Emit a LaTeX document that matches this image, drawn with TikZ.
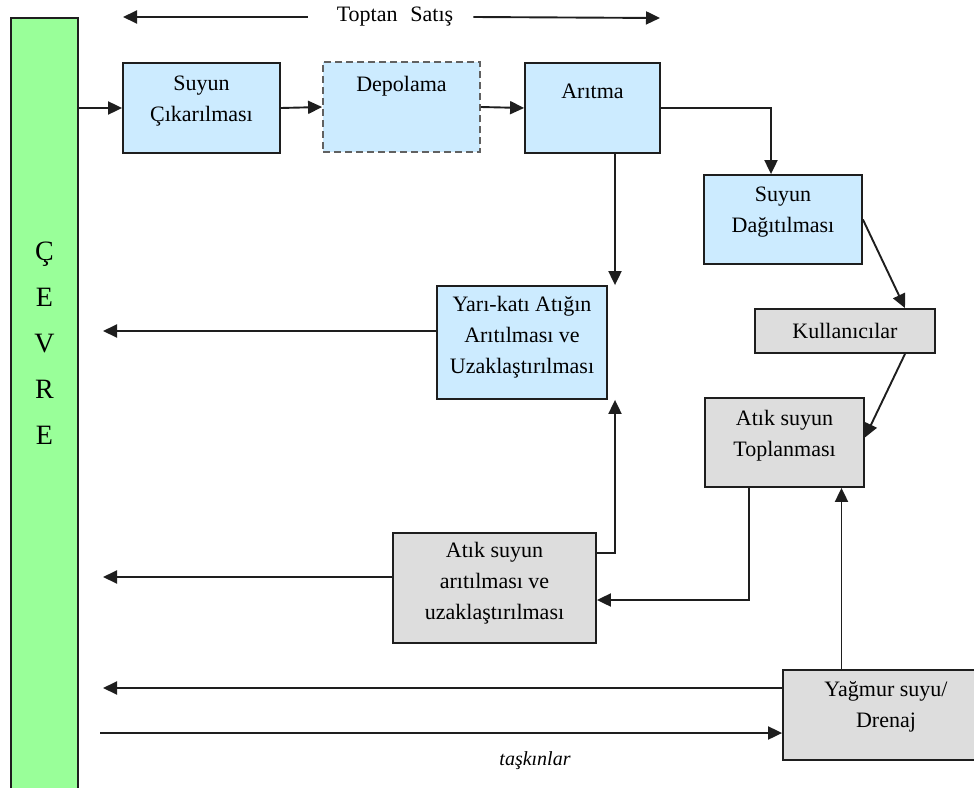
\documentclass[tikz,border=0pt]{standalone}
\usepackage{fontspec}
\setmainfont{Liberation Serif}
\usetikzlibrary{arrows.meta,calc}
\definecolor{boxblue}{HTML}{CCEBFF}
\definecolor{boxgray}{HTML}{DDDDDD}
\definecolor{envgreen}{HTML}{99FF99}
\definecolor{linec}{HTML}{1E1E1E}
\tikzset{
  bx/.style={draw=linec, line width=1.8pt, inner sep=0pt},
  bluebox/.style={bx, fill=boxblue},
  graybox/.style={bx, fill=boxgray},
  txt/.style={align=center, inner sep=0pt, font=\fontsize{22}{31}\selectfont},
  arr/.style={draw=linec, line width=1.9pt, -{Triangle[length=14pt,width=13pt]}},
  ln/.style={draw=linec, line width=1.9pt}
}
\begin{document}
\begin{tikzpicture}[x=1pt,y=-1pt]
\useasboundingbox (0,0) rectangle (974,787);
% environment bar
\node[draw=linec, line width=1.6pt, fill=envgreen, minimum width=67pt, minimum height=782pt, inner sep=0pt] (env) at (44.5,409) {};
\node[align=center, inner sep=0pt, font=\fontsize{28}{46}\selectfont] (envt) at (44.5,343) {Ç\\E\\V\\R\\E};

% top wholesale label
\node[txt] (ts) at (395,17) {Toptan\,\, Satış};
\coordinate (tl) at (123,17);
\coordinate (tr) at (660,18);
\draw[arr] ([xshift=-29pt]ts.west) -- (tl);
\draw[arr] ([xshift=20pt]ts.east) -- (tr);

% boxes
\node[bluebox, minimum width=157pt, minimum height=90pt] (suy) at (201.5,108) {};
\node[txt] (suyt) at (201.5,101) {Suyun\\Çıkarılması};
\node[bx, dashed, dash pattern=on 7pt off 4pt, draw=linec!70, fill=boxblue, minimum width=157pt, minimum height=90pt] (dep) at (401.5,107) {};
\node[txt] (dept) at (401.5,86) {Depolama};
\node[bluebox, minimum width=135pt, minimum height=90pt] (ari) at (592.5,108) {};
\node[txt] (arit) at (592.5,91) {Arıtma};
\node[bluebox, minimum width=158pt, minimum height=89pt] (dag) at (783,219.5) {};
\node[txt] (dagt) at (783,212) {Suyun\\Dağıtılması};
\node[bluebox, minimum width=170pt, minimum height=113pt] (yari) at (522,342.5) {};
\node[txt] (yarit) at (522,337) {Yarı-katı Atığın\\Arıtılması ve\\Uzaklaştırılması};
\node[graybox, minimum width=180pt, minimum height=44pt] (kul) at (845,331) {};
\node[txt] (kult) at (845,331) {Kullanıcılar};
\node[graybox, minimum width=159pt, minimum height=89pt] (top) at (784.5,442.5) {};
\node[txt] (topt) at (784.5,436) {Atık suyun\\Toplanması};
\node[graybox, minimum width=203pt, minimum height=110pt] (atar) at (494.5,588) {};
\node[txt] (atart) at (494.5,583) {Atık suyun\\arıtılması ve\\uzaklaştırılması};
\node[graybox, minimum width=200pt, minimum height=90pt] (yag) at (883,715) {};
\node[txt] (yagt) at (886,707) {Yağmur suyu/\\Drenaj};
\node[txt, font=\fontsize{20}{24}\selectfont\itshape] (task) at (535,761) {taşkınlar};

% free ends near the environment bar
\coordinate (g1) at (103,331);
\coordinate (g2) at (103,577);
\coordinate (g3) at (103,688);
\coordinate (g4) at (100,733);

% connectors
\draw[arr] (env.east |- suy.west) -- (suy.west);
\draw[arr] (suy.east) -- (dep.west);
\draw[arr] (dep.east) -- (ari.west);
\draw[arr] (ari.east) -| ([xshift=-12pt]dag.north);
\draw[arr] ([xshift=22.5pt]ari.south) -- ([xshift=22.5pt]ari.south |- yari.north);
\draw[arr] (dag.east) -- ([xshift=60pt]kul.north);
\draw[arr] ([xshift=60pt]kul.south) -- ([yshift=5pt]top.east);
\draw[arr] ([yshift=11.5pt]yari.west) -- (g1);
\draw[arr] ([xshift=-35.5pt]top.south) |- ([yshift=-12pt]atar.east);
\draw[arr] ([yshift=35pt]atar.east) -| ([xshift=93pt]yari.south);
\draw[arr] ([yshift=11pt]atar.west) -- (g2);
\draw[arr] ([yshift=27pt]yag.west) -- (g3);
\draw[arr] (g4) -- ([yshift=-18pt]yag.west);
\draw[arr] ([xshift=-41.5pt]yag.north) -- ([xshift=-41.5pt]yag.north |- top.south);
\end{tikzpicture}
\end{document}
